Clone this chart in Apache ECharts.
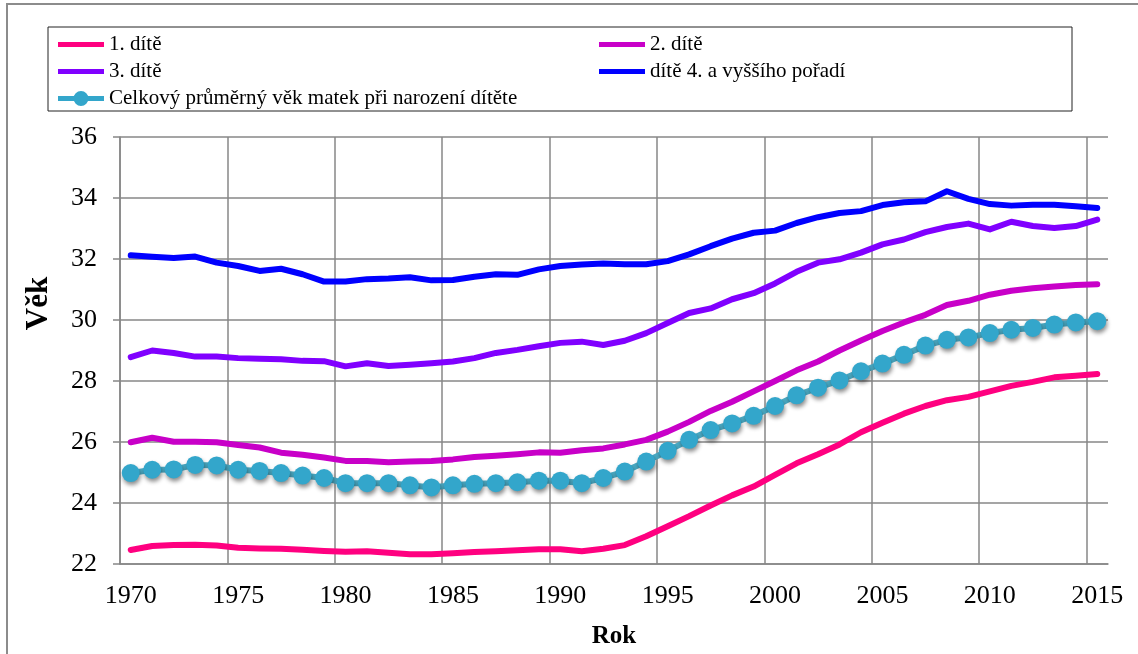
<!DOCTYPE html>
<html>
<head>
<meta charset="utf-8">
<script src="https://cdn.jsdelivr.net/npm/echarts@6/dist/echarts.min.js"></script>
<style>
  html, body { margin: 0; padding: 0; background: #fff; }
  #chart { width: 1138px; height: 654px; }
</style>
</head>
<body>
<div id="chart"></div>
<script>
// roky (kategorie osy x)
var years = [
  '1970','1971','1972','1973','1974','1975','1976','1977','1978','1979',
  '1980','1981','1982','1983','1984','1985','1986','1987','1988','1989',
  '1990','1991','1992','1993','1994','1995','1996','1997','1998','1999',
  '2000','2001','2002','2003','2004','2005','2006','2007','2008','2009',
  '2010','2011','2012','2013','2014','2015'
];

// průměrný věk matek podle pořadí dítěte
var prvni = [
  22.46, 22.59, 22.62, 22.63, 22.61, 22.53, 22.51, 22.50, 22.47, 22.43,
  22.40, 22.42, 22.37, 22.32, 22.32, 22.35, 22.39, 22.42, 22.45, 22.48,
  22.48, 22.42, 22.50, 22.62, 22.91, 23.24, 23.57, 23.92, 24.25, 24.54,
  24.92, 25.30, 25.60, 25.92, 26.32, 26.63, 26.93, 27.18, 27.37, 27.48,
  27.66, 27.84, 27.97, 28.12, 28.17, 28.23
];
var druhe = [
  25.99, 26.14, 26.01, 26.01, 25.99, 25.90, 25.82, 25.65, 25.58, 25.49,
  25.38, 25.38, 25.34, 25.36, 25.38, 25.43, 25.51, 25.55, 25.60, 25.66,
  25.65, 25.73, 25.79, 25.92, 26.07, 26.34, 26.66, 27.02, 27.32, 27.66,
  28.00, 28.35, 28.64, 29.00, 29.33, 29.64, 29.92, 30.17, 30.49, 30.63,
  30.83, 30.96, 31.04, 31.10, 31.15, 31.17
];
var treti = [
  28.78, 29.00, 28.92, 28.80, 28.80, 28.75, 28.73, 28.71, 28.66, 28.65,
  28.48, 28.58, 28.49, 28.53, 28.58, 28.64, 28.75, 28.92, 29.02, 29.14,
  29.25, 29.29, 29.18, 29.32, 29.57, 29.90, 30.23, 30.38, 30.68, 30.88,
  31.20, 31.58, 31.88, 31.99, 32.21, 32.48, 32.64, 32.88, 33.05, 33.16,
  32.97, 33.22, 33.08, 33.02, 33.08, 33.29
];
var ctvrte = [
  32.12, 32.07, 32.03, 32.08, 31.88, 31.77, 31.61, 31.68, 31.50, 31.26,
  31.26, 31.34, 31.36, 31.40, 31.30, 31.31, 31.42, 31.50, 31.48, 31.66,
  31.77, 31.82, 31.85, 31.83, 31.83, 31.93, 32.15, 32.42, 32.67, 32.86,
  32.93, 33.18, 33.37, 33.51, 33.57, 33.77, 33.86, 33.89, 34.22, 33.97,
  33.80, 33.75, 33.78, 33.78, 33.73, 33.67
];
var celkem = [
  24.98, 25.09, 25.10, 25.25, 25.23, 25.09, 25.05, 24.98, 24.90, 24.82,
  24.65, 24.65, 24.65, 24.58, 24.51, 24.58, 24.63, 24.65, 24.68, 24.73,
  24.73, 24.65, 24.82, 25.03, 25.36, 25.71, 26.07, 26.39, 26.61, 26.86,
  27.18, 27.53, 27.78, 28.02, 28.32, 28.57, 28.86, 29.16, 29.35, 29.43,
  29.57, 29.68, 29.74, 29.85, 29.92, 29.96
];

var names = [
  '1. dítě',
  '2. dítě',
  '3. dítě',
  'dítě 4. a vyššího pořadí',
  'Celkový průměrný věk matek při narození dítěte'
];

var font = 'Liberation Serif, Times New Roman, serif';
var gridColor = '#878787';
// ikony legendy: tlustá čára, u celkového věku s kolečkem uprostřed
var lineIcon = 'path://M0,0H46V5H0Z';
var dotIcon = 'path://M0,5H16V10H0Z M30,5H46V10H30Z M30.5,7.5A7.5,7.5 0 1 1 15.5,7.5A7.5,7.5 0 1 1 30.5,7.5Z';

function plainLine(name, data, color) {
  return {
    name: name,
    type: 'line',
    data: data,
    symbol: 'none',
    lineStyle: { color: color, width: 6, cap: 'round', join: 'round' },
    itemStyle: { color: color }
  };
}

var legendText = { fontFamily: font, fontSize: 21, color: '#000' };

var chart = echarts.init(document.getElementById('chart'));
var option = {
  backgroundColor: '#fff',
  animation: false,
  textStyle: { fontFamily: font, color: '#000' },
  graphic: [
    {
      type: 'rect',
      shape: { x: 7, y: 4, width: 1145, height: 670 },
      style: { fill: null, stroke: '#8c8c8c', lineWidth: 2 },
      silent: true
    },
    {
      type: 'rect',
      shape: { x: 48, y: 27, width: 1024, height: 84 },
      style: { fill: null, stroke: '#222', lineWidth: 1 },
      silent: true
    }
  ],
  legend: [
    {
      orient: 'vertical',
      left: 53,
      top: 29,
      itemWidth: 46,
      itemHeight: 15,
      itemGap: 6,
      data: [
        { name: names[0], icon: lineIcon },
        { name: names[2], icon: lineIcon },
        { name: names[4], icon: dotIcon }
      ],
      textStyle: legendText
    },
    {
      orient: 'vertical',
      left: 594,
      top: 29,
      itemWidth: 46,
      itemHeight: 15,
      itemGap: 6,
      data: [
        { name: names[1], icon: lineIcon },
        { name: names[3], icon: lineIcon }
      ],
      textStyle: legendText
    }
  ],
  grid: { left: 120, right: 30, top: 137, bottom: 88 },
  xAxis: {
    type: 'category',
    data: years,
    boundaryGap: true,
    name: 'Rok',
    nameLocation: 'middle',
    nameGap: 60,
    nameTextStyle: { fontFamily: font, fontSize: 25, fontWeight: 'bold', color: '#000' },
    axisLine: { lineStyle: { color: gridColor, width: 1.5 } },
    axisTick: { interval: 4, length: 7, lineStyle: { color: gridColor, width: 1.5 } },
    axisLabel: { interval: 4, fontFamily: font, fontSize: 26, color: '#000', margin: 19 },
    splitLine: { show: true, interval: 4, showMaxLine: false, lineStyle: { color: gridColor, width: 1.5 } }
  },
  yAxis: {
    type: 'value',
    min: 22,
    max: 36,
    interval: 2,
    name: 'Věk',
    nameLocation: 'middle',
    nameGap: 66,
    nameRotate: 90,
    nameTextStyle: {
      fontFamily: font, fontSize: 31, fontWeight: 'bold', color: '#000',
      padding: [0, 0, 0, 94]
    },
    axisLine: { show: true, lineStyle: { color: gridColor, width: 1.5 } },
    axisTick: { show: true, length: 7, lineStyle: { color: gridColor, width: 1.5 } },
    axisLabel: { fontFamily: font, fontSize: 26, color: '#000', margin: 23 },
    splitLine: { show: true, lineStyle: { color: gridColor, width: 1.5 } }
  },
  series: [
    plainLine(names[0], prvni, '#FF0080'),
    plainLine(names[1], druhe, '#C800C8'),
    plainLine(names[2], treti, '#8000FF'),
    plainLine(names[3], ctvrte, '#0000FF'),
    {
      name: names[4],
      type: 'line',
      data: celkem,
      symbol: 'circle',
      symbolSize: 18,
      showSymbol: true,
      showAllSymbol: true,
      lineStyle: { color: '#4BACC6', width: 6 },
      itemStyle: {
        color: '#33A6CB',
        shadowBlur: 4,
        shadowColor: 'rgba(0,0,0,0.45)',
        shadowOffsetY: 3,
        shadowOffsetX: 1
      },
      z: 3
    }
  ]
};
chart.setOption(option);
</script>
</body>
</html>
